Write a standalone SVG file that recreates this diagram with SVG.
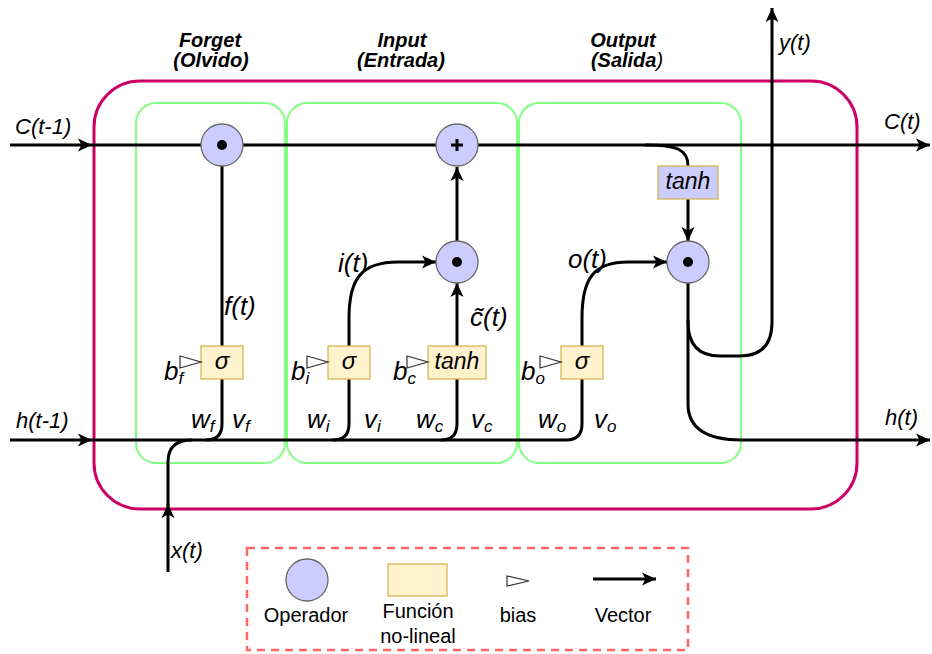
<svg xmlns="http://www.w3.org/2000/svg" width="932" height="654" viewBox="0 0 932 654">
  <style>
    .t { font-family: "Liberation Sans", Arial, sans-serif; font-style: italic; fill: #000; }
    .hd { font-weight: bold; font-size: 20px; text-anchor: middle; }
    .io { font-size: 22px; }
    .gl { font-size: 26px; }
    .sm { font-size: 17px; }
    .fx { font-size: 24px; text-anchor: middle; }
    .lg { font-family: "Liberation Sans", Arial, sans-serif; font-size: 20px; fill: #000; text-anchor: middle; }
    .op { fill: #ccccff; stroke: #666; stroke-width: 1.3; }
    .fn { fill: #fff2cc; stroke: #d6b656; stroke-width: 1.3; }
    .fnb { fill: #ccccff; stroke: #d6b656; stroke-width: 1.3; }
    .w { fill: none; stroke: #000; stroke-width: 3; }
    .gate { fill: none; stroke: #80ff80; stroke-width: 2; }
    .bias { fill: #fff; stroke: #333; stroke-width: 1.2; }
  </style>
  <defs>
    <marker id="arr" markerUnits="userSpaceOnUse" markerWidth="15" markerHeight="14" refX="14" refY="7" orient="auto">
      <path d="M0,0.5 L14,7 L0,13.5 L3.5,7 Z" fill="#000"/>
    </marker>
  </defs>

  <rect width="932" height="654" fill="#fff"/>

  <!-- cell boundary -->
  <rect id="cell" x="94" y="81" width="763" height="428" rx="46" fill="none" stroke="#cc0066" stroke-width="3"/>

  <!-- gate regions -->
  <g id="gates">
    <rect id="gate-forget" class="gate" x="136" y="103" width="149" height="360" rx="20"/>
    <rect id="gate-input" class="gate" x="287" y="103" width="230" height="360" rx="20"/>
    <rect id="gate-output" class="gate" x="519" y="103" width="222" height="360" rx="20"/>
  </g>

  <!-- connectors -->
  <g id="connectors">
    <!-- cell state -->
    <path class="w" d="M10,145 H92" marker-end="url(#arr)"/>
    <path class="w" d="M92,145 H930" marker-end="url(#arr)"/>
    <!-- hidden state in -->
    <path class="w" d="M10,440 H92" marker-end="url(#arr)"/>
    <path class="w" d="M92,440 H566 Q582,440 582,424 V379"/>
    <!-- x(t) joins hidden state -->
    <path class="w" d="M168,572 V504" marker-end="url(#arr)"/>
    <path class="w" d="M168,506 V462 Q168,440 192,440"/>
    <!-- branches up into the gate functions -->
    <path class="w" d="M206,440 Q222,440 222,424 V379"/>
    <path class="w" d="M333,440 Q349,440 349,424 V379"/>
    <path class="w" d="M441,440 Q457,440 457,424 V379"/>
    <!-- forget gate output -->
    <path class="w" d="M222,346 V166"/>
    <!-- input gate -->
    <path class="w" d="M349,346 V318 C349,278 362,262 398,262 H436" marker-end="url(#arr)"/>
    <path class="w" d="M457,346 V283" marker-end="url(#arr)"/>
    <path class="w" d="M457,241 V167" marker-end="url(#arr)"/>
    <!-- output gate -->
    <path class="w" d="M582,346 V318 C582,278 594,262 628,262 H667" marker-end="url(#arr)"/>
    <path class="w" d="M645,145 C678,145 688,150 688,166"/>
    <path class="w" d="M688,199 V241" marker-end="url(#arr)"/>
    <!-- y(t) -->
    <path class="w" d="M688,283 V322 Q688,356 720,356 H740 Q772,356 772,322 V8" marker-end="url(#arr)"/>
    <!-- h(t) -->
    <path class="w" d="M688,320 V404 Q688,440 742,440 H930" marker-end="url(#arr)"/>
  </g>

  <!-- operators -->
  <g id="op-forget-mul">
    <circle class="op" cx="222" cy="145" r="21"/>
    <circle cx="222" cy="145" r="5" fill="#000"/>
  </g>
  <g id="op-add">
    <circle class="op" cx="457" cy="145" r="21"/>
    <path d="M451,145 H463 M457,139 V151" stroke="#000" stroke-width="3"/>
  </g>
  <g id="op-input-mul">
    <circle class="op" cx="457" cy="262" r="21"/>
    <circle cx="457" cy="262" r="5" fill="#000"/>
  </g>
  <g id="op-output-mul">
    <circle class="op" cx="688" cy="262" r="21"/>
    <circle cx="688" cy="262" r="5" fill="#000"/>
  </g>

  <!-- non-linear functions -->
  <g id="fn-forget-sigma">
    <rect class="fn" x="201" y="346" width="42" height="33"/>
    <text class="t fx" x="222" y="369">σ</text>
  </g>
  <g id="fn-input-sigma">
    <rect class="fn" x="328" y="346" width="42" height="33"/>
    <text class="t fx" x="349" y="369">σ</text>
  </g>
  <g id="fn-input-tanh">
    <rect class="fn" x="428" y="346" width="58" height="33"/>
    <text class="t fx" x="457" y="369" style="font-size:23px">tanh</text>
  </g>
  <g id="fn-output-sigma">
    <rect class="fn" x="561" y="346" width="42" height="33"/>
    <text class="t fx" x="582" y="369">σ</text>
  </g>
  <g id="fn-output-tanh">
    <rect class="fnb" x="658" y="166" width="60" height="33"/>
    <text class="t fx" x="688" y="189" style="font-size:23px">tanh</text>
  </g>

  <!-- biases -->
  <g id="bias-forget">
    <path class="bias" d="M180,356 L201,362 L180,368 Z"/>
    <text class="t gl" x="164" y="380">b<tspan class="sm" dy="4">f</tspan></text>
  </g>
  <g id="bias-input">
    <path class="bias" d="M307,356 L328,362 L307,368 Z"/>
    <text class="t gl" x="291" y="380">b<tspan class="sm" dy="4">i</tspan></text>
  </g>
  <g id="bias-cand">
    <path class="bias" d="M407,356 L428,362 L407,368 Z"/>
    <text class="t gl" x="393" y="380">b<tspan class="sm" dy="4">c</tspan></text>
  </g>
  <g id="bias-output">
    <path class="bias" d="M540,356 L561,362 L540,368 Z"/>
    <text class="t gl" x="521" y="380">b<tspan class="sm" dy="4">o</tspan></text>
  </g>

  <!-- weight labels -->
  <g id="weights">
    <text class="t gl" x="191" y="428">w<tspan class="sm" dy="4">f</tspan></text>
    <text class="t gl" x="232" y="428">v<tspan class="sm" dy="4">f</tspan></text>
    <text class="t gl" x="307" y="428">w<tspan class="sm" dy="4">i</tspan></text>
    <text class="t gl" x="364" y="428">v<tspan class="sm" dy="4">i</tspan></text>
    <text class="t gl" x="416" y="428">w<tspan class="sm" dy="4">c</tspan></text>
    <text class="t gl" x="471" y="428">v<tspan class="sm" dy="4">c</tspan></text>
    <text class="t gl" x="538" y="428">w<tspan class="sm" dy="4">o</tspan></text>
    <text class="t gl" x="594" y="428">v<tspan class="sm" dy="4">o</tspan></text>
  </g>

  <!-- signal labels -->
  <g id="labels">
    <text class="t gl" x="224" y="315">f(t)</text>
    <text class="t gl" x="338" y="272">i(t)</text>
    <text class="t gl" x="470" y="326">c̃(t)</text>
    <text class="t gl" x="568" y="268">o(t)</text>
    <text class="t io" x="15" y="134">C(t-1)</text>
    <text class="t io" x="16" y="428">h(t-1)</text>
    <text class="t io" x="884" y="129">C(t)</text>
    <text class="t io" x="885" y="425">h(t)</text>
    <text class="t io" x="779" y="50">y(t)</text>
    <text class="t io" x="171" y="558">x(t)</text>
  </g>

  <!-- gate titles -->
  <g id="titles">
    <text class="t hd" x="210" y="47">Forget</text>
    <text class="t hd" x="211" y="67">(Olvido)</text>
    <text class="t hd" x="402" y="47">Input</text>
    <text class="t hd" x="401" y="67">(Entrada)</text>
    <text class="t hd" x="623" y="47">Output</text>
    <text class="t hd" x="627" y="67">(Salida<tspan font-weight="normal">)</tspan></text>
  </g>

  <!-- legend -->
  <g id="legend">
    <rect x="247" y="548" width="441" height="102" fill="none" stroke="#ff6666" stroke-width="2.5" stroke-dasharray="8,6"/>
    <circle class="op" cx="307" cy="580" r="21"/>
    <rect class="fn" x="388" y="564" width="59" height="32"/>
    <path class="bias" d="M507,576 L529,581 L507,586 Z"/>
    <path class="w" d="M593,579 H656" marker-end="url(#arr)"/>
    <text class="lg" x="306" y="622">Operador</text>
    <text class="lg" x="418" y="618">Función</text>
    <text class="lg" x="418" y="643">no-lineal</text>
    <text class="lg" x="518" y="622">bias</text>
    <text class="lg" x="623" y="622">Vector</text>
  </g>
</svg>
